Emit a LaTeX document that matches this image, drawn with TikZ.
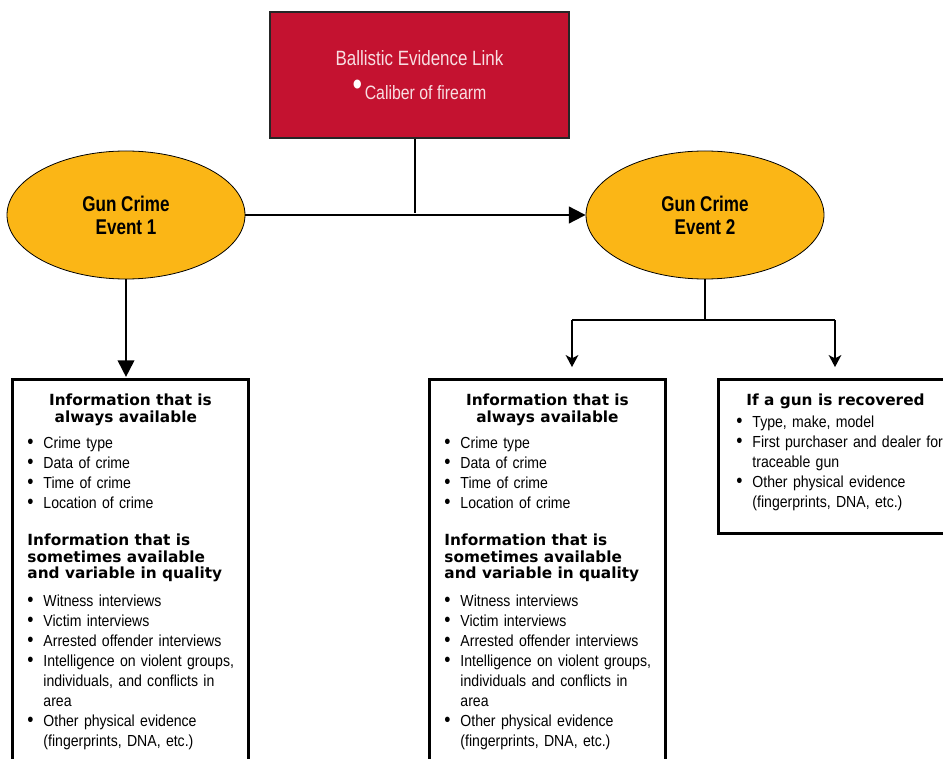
\documentclass[tikz,border=0pt]{standalone}
\usepackage{fontspec}
\setmainfont{Liberation Sans}[FakeStretch=0.88]
\newfontfamily\headfont{DejaVu Sans}
\newfontfamily\eventfont{Liberation Sans}[FakeStretch=0.8]
\newfontfamily\linkfont{Liberation Sans}[FakeStretch=0.82]
\usetikzlibrary{shapes.geometric,arrows.meta}

\definecolor{linkred}{RGB}{196,18,48}
\definecolor{eventgold}{RGB}{251,182,22}
\definecolor{linktext}{RGB}{248,222,226}

% headings and bullet lines inside the info boxes
\newcommand{\hd}[1]{{\headfont\bfseries\fontsize{11.5}{12.4}\selectfont #1\par}}
\newcommand{\hdc}[1]{{\centering\headfont\bfseries\fontsize{11.5}{12.4}\selectfont #1\par}}
\newcommand{\dotmark}{\raisebox{-0.3pt}{\scalebox{1.25}{\textbullet}}}
\newcommand{\itm}[1]{\mbox{\makebox[12pt][l]{\dotmark}#1}}
\newcommand{\itc}[1]{\mbox{\hspace*{12pt}#1}}

\tikzset{
  linkbox/.style={rectangle, draw=black!85, line width=0.8pt, fill=linkred,
    minimum width=224.25pt, minimum height=94.5pt, text=linktext, align=center,
    font=\linkfont\fontsize{15.5}{18}\selectfont},
  event/.style={ellipse, draw, line width=0.6pt, fill=eventgold,
    minimum width=178.5pt, minimum height=96pt, inner sep=0pt, align=center,
    font=\eventfont\bfseries\fontsize{16}{17.3}\selectfont},
  infobox/.style={rectangle, draw, line width=2.2pt, anchor=north west,
    inner xsep=11.25pt, inner ysep=10.8pt, text width=154.5pt, align=left,
    font=\fontsize{12}{15}\selectfont},
  link/.style={line width=1.4pt},
  fork/.style={line width=1.1pt},
  bigtip/.style={-{Triangle[length=12.5pt,width=12.5pt]}},
  smalltip/.style={-{Stealth[length=9pt,width=9.5pt,inset=2.5pt]}}
}

\begin{document}
\begin{tikzpicture}[x=0.75pt,y=-0.75pt]
    \useasboundingbox (0,0) rectangle (943,759);

    % top: the link
    \node (link) [linkbox] at (419.5,75)
      {Ballistic Evidence Link\\[7.5pt]\textcolor{white}{\raisebox{3pt}{\scalebox{1.6}{\textbullet}}}\hspace{2pt}{\fontsize{14.5}{18}\selectfont Caliber of firearm}};

    % the two events
    \node (event1) [event] at (126,215) {Gun Crime\\Event 1};
    \node (event2) [event] at (705,215) {Gun Crime\\Event 2};

    \coordinate (join) at (415,213);
    \draw[link] (join |- link.south) -- (join);
    \draw[link, bigtip] (event1.east) -- (event2.west);

    % event 1 info
    \node (info1) [infobox] at (11,378) {%
      \hdc{Information that is\\always available\hspace*{7pt}}
      \vspace{4.7pt}
      \itm{Crime type}\\
      \itm{Data of crime}\\
      \itm{Time of crime}\\
      \itm{Location of crime}\par
      \vspace{15.6pt}
      \hd{Information that is\\sometimes available\\and variable in quality}
      \vspace{5.5pt}
      \itm{Witness interviews}\\
      \itm{Victim interviews}\\
      \itm{Arrested offender interviews}\\
      \itm{Intelligence on violent groups,}\\
      \itc{individuals, and conflicts in}\\
      \itc{area}\\
      \itm{Other physical evidence}\\
      \itc{(fingerprints, DNA, etc.)}\rule[-40pt]{0pt}{1pt}};

    \draw[link, bigtip, shorten >=0.8pt] (event1.south) -- (event1.south |- info1.north);

    % event 2 info
    \node (info2) [infobox] at (428,378) {%
      \hdc{Information that is\\always available}
      \vspace{4.7pt}
      \itm{Crime type}\\
      \itm{Data of crime}\\
      \itm{Time of crime}\\
      \itm{Location of crime}\par
      \vspace{15.6pt}
      \hd{Information that is\\sometimes available\\and variable in quality}
      \vspace{5.5pt}
      \itm{Witness interviews}\\
      \itm{Victim interviews}\\
      \itm{Arrested offender interviews}\\
      \itm{Intelligence on violent groups,}\\
      \itc{individuals and conflicts in}\\
      \itc{area}\\
      \itm{Other physical evidence}\\
      \itc{(fingerprints, DNA, etc.)}\rule[-40pt]{0pt}{1pt}};

    \node (gun) [infobox, inner xsep=13.5pt, text width=180pt] at (717,378) {%
      \hd{\hspace*{7.5pt}If a gun is recovered}
      \vspace{1.5pt}
      \itm{Type, make, model}\\
      \itm{First purchaser and dealer for}\\
      \itc{traceable gun}\\
      \itm{Other physical evidence}\\
      \itc{(fingerprints, DNA, etc.)}\rule[-8.7pt]{0pt}{1pt}};

    % fork below event 2
    \coordinate (split) at (705,320);
    \coordinate (left) at (572,320);
    \coordinate (right) at (835,320);
    \draw[fork] (event2.south) -- (split);
    \draw[fork] (left) -- (right);
    \draw[fork, smalltip, shorten >=8.2pt] (left) -- (left |- info2.north);
    \draw[fork, smalltip, shorten >=8.2pt] (right) -- (right |- gun.north);
\end{tikzpicture}
\end{document}
